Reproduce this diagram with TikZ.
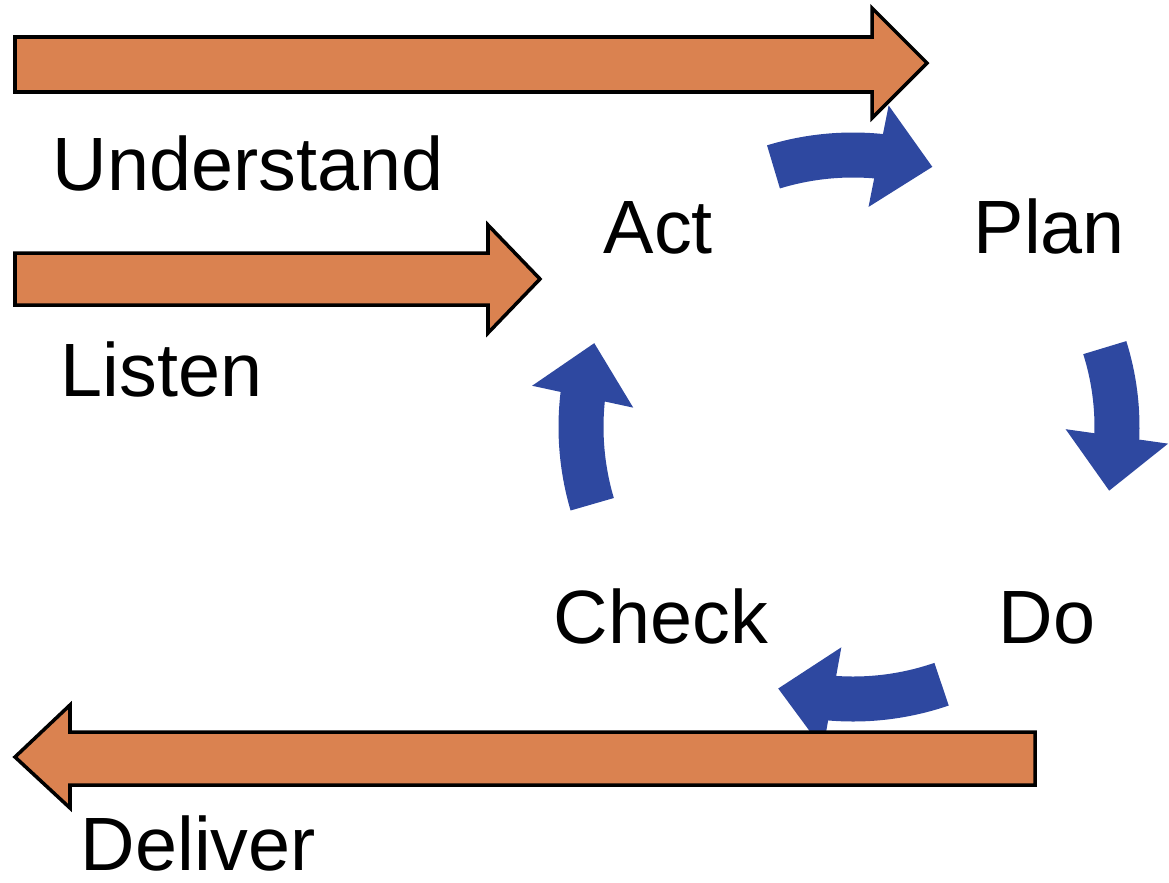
\documentclass[tikz,border=0pt]{standalone}
\usepackage{fontspec}
\setmainfont{Liberation Sans}
\usetikzlibrary{arrows.meta,bending}
\definecolor{arroworange}{RGB}{218,130,80}
\definecolor{cycleblue}{RGB}{46,72,160}
\tikzset{
  bigarrow/.style={draw=black, line width=1pt, fill=arroworange, line join=miter},
  cyclearrow/.style={cycleblue, line width=4.5mm, -{Triangle[width=10mm,length=5.5mm]}},
  word/.style={anchor=base west, inner sep=0pt, font=\fontsize{21.5}{26}\selectfont}
}
\begin{document}
\begin{tikzpicture}
    \useasboundingbox (0,0) rectangle (11.69,8.82);
    % centre of the plan-do-check-act cycle
    \coordinate (cyc) at (8.53,4.55);
    
    % Blue cycle arrows (behind the orange ones)
    \draw[cyclearrow] ([shift={(107:2.72)}]cyc) arc[start angle=107, end angle=73, radius=2.72];
    \draw[cyclearrow] ([shift={(17.5:2.64)}]cyc) arc[start angle=17.5, end angle=-14, radius=2.64];
    \draw[cyclearrow] ([shift={(-71:2.72)}]cyc) arc[start angle=-71, end angle=-106, radius=2.72];
    \draw[cyclearrow] ([shift={(196.5:2.72)}]cyc) arc[start angle=196.5, end angle=162, radius=2.72];
    
    % Orange block arrows
    \draw[bigarrow] (0.15,8.45) -- (8.72,8.45) -- (8.72,8.74) -- (9.27,8.19) -- (8.72,7.64) -- (8.72,7.90) -- (0.15,7.90) -- cycle;
    \draw[bigarrow] (0.15,6.29) -- (4.88,6.29) -- (4.88,6.57) -- (5.40,6.03) -- (4.88,5.49) -- (4.88,5.77) -- (0.15,5.77) -- cycle;
    \draw[bigarrow] (10.35,1.50) -- (0.70,1.50) -- (0.70,1.77) -- (0.15,1.25) -- (0.70,0.74) -- (0.70,0.97) -- (10.35,0.97) -- cycle;
    
    % Labels
    \node[word] (understand) at (0.52,6.92) {Understand};
    \node[word] (listen) at (0.60,4.86) {Listen};
    \node[word] (deliver) at (0.80,0.12) {Deliver};
    \node[word] (act) at (6.03,6.29) {Act};
    \node[word] (plan) at (9.73,6.29) {Plan};
    \node[word] (check) at (5.53,2.39) {Check};
    \node[word] (do) at (9.98,2.39) {Do};
\end{tikzpicture}
\end{document}
